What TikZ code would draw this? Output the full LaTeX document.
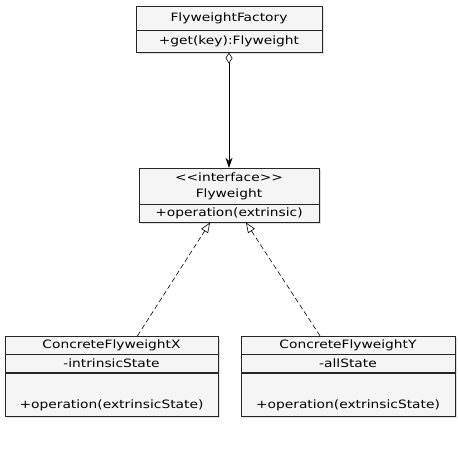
\documentclass[tikz,border=0pt]{standalone}
\usepackage{fontspec}
\setmainfont{DejaVu Sans}[FakeStretch=1.2]
\usetikzlibrary{positioning,shadows,arrows.meta}

\begin{document}
\begin{tikzpicture}[x=1pt,y=-1pt,
part/.style={draw=black!85, fill=gray!8, inner sep=0pt, align=center,
    drop shadow={opacity=0.25,shadow xshift=2pt,shadow yshift=-2pt},
    font=\fontsize{11.5}{13}\selectfont},
owns/.style={{Diamond[open,length=11pt,width=7pt]}-{Stealth[length=10pt,width=7pt]}, semithick},
realizes/.style={line width=0.6pt, dash pattern=on 5pt off 3pt, -{Triangle[open,length=10pt,width=8pt]}}
]
\useasboundingbox (0,0) rectangle (458,455);
% factory
\node[part, minimum width=186pt, minimum height=24pt] (factory) at (229,18) {FlyweightFactory};
\node[part, minimum width=186pt, minimum height=22pt, below=0pt of factory] (factoryops) {+get(key):Flyweight};
% interface
\node[part, minimum width=180pt, minimum height=36pt] (flyweight) at (229,186) {<\kern0pt<interface>\kern0pt>\\[3pt]Flyweight};
\node[part, minimum width=180pt, minimum height=18pt, below=0pt of flyweight] (flyweightops) {+operation(extrinsic)};
% concrete classes
\node[part, minimum width=213pt, minimum height=18pt] (cfx) at (111.5,345) {ConcreteFlyweightX};
\node[part, minimum width=213pt, minimum height=18pt, below=0pt of cfx] (cfxattr) {-intrinsicState};
\node[part, minimum width=213pt, minimum height=43pt, below=0pt of cfxattr] (cfxops) {~\\[17pt]+operation(extrinsicState)};
\node[part, minimum width=214pt, minimum height=18pt] (cfy) at (348,345) {ConcreteFlyweightY};
\node[part, minimum width=214pt, minimum height=18pt, below=0pt of cfy] (cfyattr) {-allState};
\node[part, minimum width=214pt, minimum height=43pt, below=0pt of cfyattr] (cfyops) {~\\[17pt]+operation(extrinsicState)};
% relations
\draw[owns] (factoryops.south) -- (flyweight.north);
\draw[realizes] ([xshift=26pt]cfx.north) -- ([xshift=-19pt]flyweightops.south);
\draw[realizes] ([xshift=-28pt]cfy.north) -- ([xshift=17pt]flyweightops.south);
\end{tikzpicture}
\end{document}
